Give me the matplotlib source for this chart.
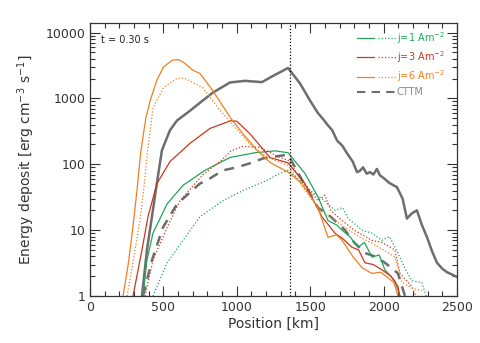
import numpy as np
import matplotlib.pyplot as plt
from matplotlib.ticker import FixedLocator, NullFormatter, LogLocator
from matplotlib.legend_handler import HandlerTuple
from matplotlib.lines import Line2D

# positions in km, energy deposit in erg cm^-3 s^-1
gray_x = [354, 388, 422, 460, 490, 545, 593, 681, 760, 838, 954, 1056, 1172, 1230, 1294, 1349,
          1430, 1499, 1553, 1590, 1621, 1650, 1683, 1720, 1751, 1790, 1819, 1840, 1860, 1885,
          1907, 1930, 1955, 1975, 1996, 2040, 2091, 2130, 2159, 2193, 2227, 2261, 2296, 2330,
          2364, 2400, 2432, 2470, 2500]
gray_y = [1, 5, 16, 60, 163, 330, 463, 650, 900, 1230, 1750, 1850, 1770, 2100, 2500, 2900,
          1700, 930, 600, 480, 390, 330, 230, 190, 147, 110, 76, 80, 90, 72,
          76, 70, 85, 68, 63, 52, 45, 30, 15, 18, 20, 12, 7.8, 4.8,
          3.2, 2.6, 2.3, 2.1, 1.95]

cttm_x = [361, 422, 497, 593, 749, 817, 906, 1001, 1110, 1179, 1270, 1349,
          1450, 1553, 1640, 1737, 1800, 1873, 1940, 2009, 2060, 2098, 2146]
cttm_y = [1, 3.5, 11, 25, 51, 61, 81, 90, 107, 123, 132, 140,
          55, 22, 16, 10, 6.5, 4.5, 4.0, 3.2, 2.6, 2.2, 1]

j1_sol_x = [361, 388, 429, 525, 634, 783, 954, 1124, 1260, 1349,
            1464, 1553, 1621, 1680, 1717, 1770, 1826, 1870, 1921, 1970, 2009, 2077, 2112]
j1_sol_y = [1, 3.5, 9, 25, 48, 81, 127, 150, 160, 150,
            73, 32, 14, 12, 10, 8, 5.5, 6.5, 3.9, 4.2, 2.5, 1.7, 1]
j1_dot_x = [429, 525, 634, 749, 906, 1042, 1206, 1294, 1349,
            1420, 1499, 1580, 1669, 1720, 1760, 1853, 1920, 1989, 2040, 2098, 2150, 2193, 2261, 2290]
j1_dot_y = [1, 3.2, 7, 16, 28, 40, 57, 73, 81,
            60, 40, 30, 20, 22, 15, 10, 9, 7, 8, 4.5, 2.5, 1.7, 1.6, 1]

j3_sol_x = [293, 354, 395, 456, 545, 681, 817, 960, 1001, 1090, 1226, 1349,
            1464, 1580, 1669, 1720, 1785, 1830, 1873, 1930, 1989, 2050, 2098, 2110]
j3_sol_y = [1, 5, 16, 51, 110, 208, 350, 460, 450, 290, 127, 105,
            51, 16, 9, 7.5, 5.5, 5, 3.2, 3, 2.5, 2, 1.4, 1]
j3_dot_x = [375, 429, 525, 613, 770, 906, 960, 1042, 1158, 1294, 1349,
            1450, 1553, 1600, 1640, 1717, 1800, 1921, 1990, 2077, 2112, 2193, 2220]
j3_dot_y = [1, 3.5, 11, 28, 70, 120, 160, 187, 180, 127, 115,
            55, 28, 34, 20, 14, 10, 7, 6.5, 5, 2.2, 1.4, 1]

j6_sol_x = [225, 260, 290, 320, 345, 380, 410, 455, 500, 560, 600, 640, 700, 749,
            838, 954, 1042, 1138, 1226, 1349,
            1444, 1553, 1621, 1680, 1717, 1790, 1853, 1921, 1980, 2030, 2070, 2098]
j6_sol_y = [1, 3, 10, 40, 150, 500, 930, 1870, 3000, 3800, 3900, 3500, 2700, 2400,
            1300, 520, 290, 163, 107, 76,
            51, 22, 7.8, 8.5, 7, 4, 2.7, 2.2, 2.3, 1.9, 1.6, 1]
j6_dot_x = [252, 300, 340, 370, 390, 430, 500, 590, 640, 690, 770,
            888, 1005, 1110, 1226, 1349,
            1450, 1553, 1650, 1737, 1830, 1921, 2000, 2077, 2125, 2200, 2261]
j6_dot_y = [1, 4, 14, 50, 150, 730, 1450, 2000, 2050, 1800, 1450,
            650, 330, 180, 123, 96,
            45, 22, 15, 11, 8, 6.3, 5, 3.9, 1.6, 1.3, 1.2]

t_mark = 1362

c_j1 = '#22a55a'
c_j3 = '#c8381e'
c_j6 = '#f0801e'
c_gray = '#6e6e6e'
dots = (0, (1, 1.6))

plt.rcParams['font.family'] = 'DejaVu Sans'

fig, ax = plt.subplots(figsize=(4.8, 3.43), dpi=100)
fig.subplots_adjust(left=0.1875, right=0.952, bottom=0.137, top=0.933)

ax.plot(gray_x, gray_y, color=c_gray, lw=1.8)
ax.plot(cttm_x, cttm_y, color=c_gray, lw=1.8, ls=(0, (4, 3)))
ax.plot(j1_sol_x, j1_sol_y, color=c_j1, lw=0.9)
ax.plot(j1_dot_x, j1_dot_y, color=c_j1, lw=0.9, ls=dots)
ax.plot(j3_sol_x, j3_sol_y, color=c_j3, lw=0.9)
ax.plot(j3_dot_x, j3_dot_y, color=c_j3, lw=0.9, ls=dots)
ax.plot(j6_sol_x, j6_sol_y, color=c_j6, lw=0.9)
ax.plot(j6_dot_x, j6_dot_y, color=c_j6, lw=0.9, ls=dots)
ax.axvline(t_mark, color='black', lw=0.9, ls=dots)

ax.set_yscale('log')
ax.set_xlim(0, 2500)
ax.set_ylim(1, 1.4e4)

ax.xaxis.set_major_locator(FixedLocator([0, 500, 1000, 1500, 2000, 2500]))
ax.xaxis.set_minor_locator(FixedLocator(np.arange(0, 2501, 100)))
ax.yaxis.set_major_locator(FixedLocator([1, 10, 100, 1000, 10000]))
ax.yaxis.set_minor_locator(LogLocator(base=10, subs=np.arange(2, 10)))
ax.yaxis.set_minor_formatter(NullFormatter())
ax.set_yticklabels(['1', '10', '100', '1000', '10000'])
ax.tick_params(which='both', direction='in', top=True, right=True, labelsize=9,
               width=0.8, colors='#333333', labelcolor='#333333')
ax.tick_params(which='major', length=7)
ax.tick_params(which='minor', length=3.5)
for s in ax.spines.values():
    s.set_color('#333333')
    s.set_linewidth(0.9)

ax.set_xlabel('Position [km]', fontsize=10, color='#333333', labelpad=2)
ax.set_ylabel('Energy deposit [erg cm$^{-3}$ s$^{-1}$]', fontsize=10, color='#333333', labelpad=6)
ax.text(0.03, 0.955, 't = 0.30 s', transform=ax.transAxes, fontsize=7, va='top', color='#222222')

handles = []
for c in (c_j1, c_j3, c_j6):
    handles.append((Line2D([], [], color=c, lw=0.9), Line2D([], [], color=c, lw=0.9, ls=dots)))
handles.append(Line2D([], [], color=c_gray, lw=1.5, ls=(0, (4, 3))))
labels = ['j=1 Am$^{-2}$', 'j=3 Am$^{-2}$', 'j=6 Am$^{-2}$', 'CTTM']
leg = ax.legend(handles, labels, handler_map={tuple: HandlerTuple(ndivide=None)},
                loc='upper right', bbox_to_anchor=(0.985, 1.0), frameon=False, fontsize=7,
                handlelength=4, handletextpad=0.1, labelspacing=0.35, borderaxespad=0.3)
for txt, c in zip(leg.get_texts(), (c_j1, c_j3, c_j6, '#888888')):
    txt.set_color(c)

fig.savefig('out.png', dpi=100)
